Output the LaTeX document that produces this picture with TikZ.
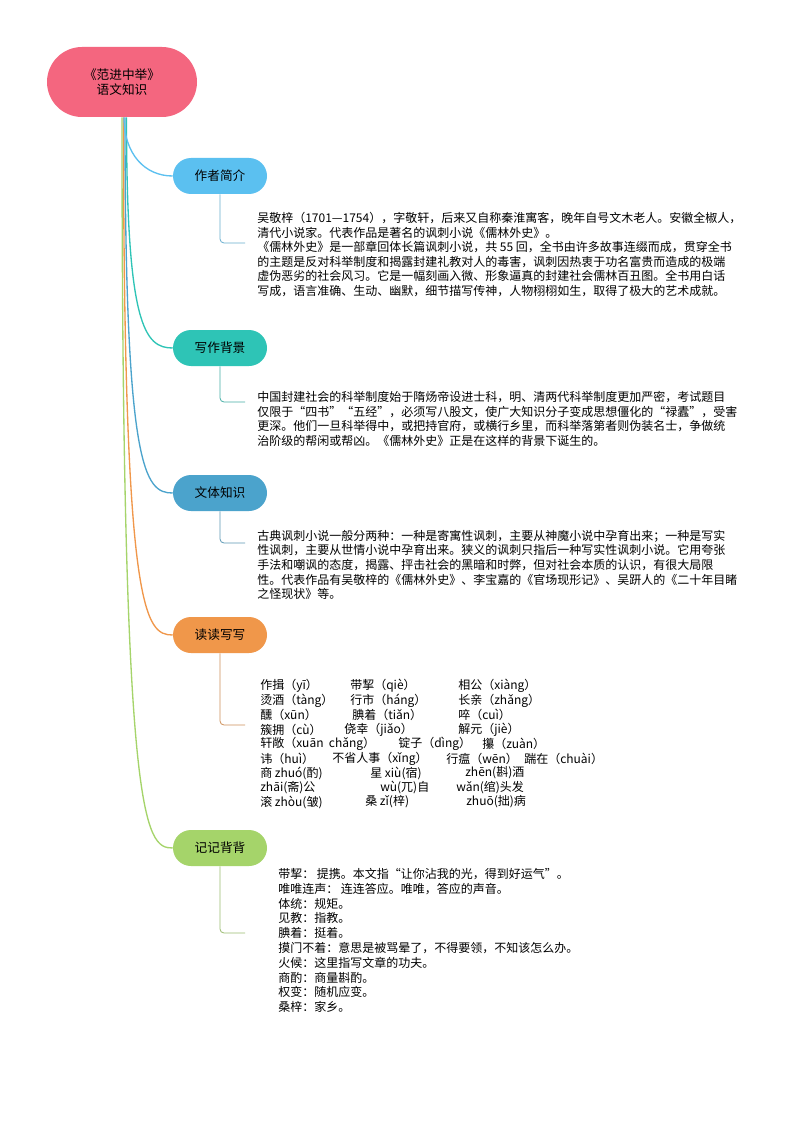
\documentclass[tikz,border=0pt]{standalone}
\usepackage{fontspec}
\setmainfont{Noto Sans CJK SC}
\usetikzlibrary{calc}
\begin{document}
\begin{tikzpicture}[x=0.75pt,y=-0.75pt,
  rootbox/.style={draw=none,fill=rootc,rounded corners=26.25pt,minimum width=112.5pt,minimum height=52.5pt,align=center,font=\fontsize{9.5}{11.5}\selectfont,inner sep=0pt},
  branchbox/.style={draw=none,fill=#1,rounded corners=13.5pt,minimum width=70.5pt,minimum height=27pt,font=\fontsize{9.5}{11}\selectfont,inner sep=0pt},
  body/.style={anchor=north west,align=left,inner sep=0pt,font=\fontsize{9}{10.9}\selectfont},
  item/.style={anchor=west,inner sep=0pt,font=\fontsize{9}{10.9}\selectfont},
  mainline/.style={draw=#1,line width=1pt},
  subline/.style={draw=#1,line width=0.6pt,rounded corners=3pt}]
\definecolor{rootc}{HTML}{F4667F}
\definecolor{c1}{HTML}{5BC0F0}
\definecolor{c2}{HTML}{2EC4B6}
\definecolor{c3}{HTML}{4BA3CC}
\definecolor{c4}{HTML}{F0974A}
\definecolor{c5}{HTML}{A5D46A}
\useasboundingbox (0,0) rectangle (794,1123);
\fill[white] (0,0) rectangle (794,1123);

\node[rootbox] (root) at (122,82) {《范进中举》\\语文知识};
\node[branchbox=c1] (b1) at (220,176) {作者简介};
\node[branchbox=c2] (b2) at (220,348) {写作背景};
\node[branchbox=c3] (b3) at (220,493) {文体知识};
\node[branchbox=c4] (b4) at (220,635) {读读写写};
\node[branchbox=c5] (b5) at (220,848) {记记背背};

\foreach \b/\c/\dx in {b5/c5/0,b4/c4/1.5,b3/c3/3,b2/c2/4.5,b1/c1/2}{
  \draw[mainline=\c] ($(root.south)+(\dx,0)$) .. controls ($(root.south |- \b.west)+(\dx,-22)$) and ($(\b.west)+(-28,0)$) .. (\b.west);
}

\coordinate (e1) at (245,243);
\coordinate (e2) at (245,402);
\coordinate (e3) at (245,543);
\coordinate (e4) at (245,725);
\coordinate (e5) at (245,933);
\draw[subline=c1!70!gray] (b1.south) |- (e1);
\draw[subline=c2!70!gray] (b2.south) |- (e2);
\draw[subline=c3!70!gray] (b3.south) |- (e3);
\draw[subline=c4!70!gray] (b4.south) |- (e4);
\draw[subline=c5!70!gray] (b5.south) |- (e5);

\node[body] (t1) at (257,212) {吴敬梓（1701—1754），字敬轩，后来又自称秦淮寓客，晚年自号文木老人。安徽全椒人，\\
清代小说家。代表作品是著名的讽刺小说《儒林外史》。\\
《儒林外史》是一部章回体长篇讽刺小说，共 55 回，全书由许多故事连缀而成，贯穿全书\\
的主题是反对科举制度和揭露封建礼教对人的毒害，讽刺因热衷于功名富贵而造成的极端\\
虚伪恶劣的社会风习。它是一幅刻画入微、形象逼真的封建社会儒林百丑图。全书用白话\\
写成，语言准确、生动、幽默，细节描写传神，人物栩栩如生，取得了极大的艺术成就。};

\node[body] (t2) at (257,391) {中国封建社会的科举制度始于隋炀帝设进士科，明、清两代科举制度更加严密，考试题目\\
仅限于“四书”“五经”，必须写八股文，使广大知识分子变成思想僵化的“禄蠹”，受害\\
更深。他们一旦科举得中，或把持官府，或横行乡里，而科举落第者则伪装名士，争做统\\
治阶级的帮闲或帮凶。《儒林外史》正是在这样的背景下诞生的。};

\node[body] (t3) at (257,530) {古典讽刺小说一般分两种：一种是寄寓性讽刺，主要从神魔小说中孕育出来；一种是写实\\
性讽刺，主要从世情小说中孕育出来。狭义的讽刺只指后一种写实性讽刺小说。它用夸张\\
手法和嘲讽的态度，揭露、抨击社会的黑暗和时弊，但对社会本质的认识，有很大局限\\
性。代表作品有吴敬梓的《儒林外史》、李宝嘉的《官场现形记》、吴趼人的《二十年目睹\\
之怪现状》等。};

% reading list
\node[item] (r11) at (260,686) {作揖（yī）};
\node[item] (r12) at (350,686) {带挈（qiè）};
\node[item] (r13) at (458,686) {相公（xiàng）};
\node[item] (r21) at (260,700.5) {烫酒（tàng）};
\node[item] (r22) at (350,700.5) {行市（háng）};
\node[item] (r23) at (458,700.5) {长亲（zhǎng）};
\node[item] (r31) at (260,715) {醺（xūn）};
\node[item] (r32) at (352,715) {腆着（tiǎn）};
\node[item] (r33) at (458,715) {啐（cuì）};
\node[item] (r41) at (260,729.5) {簇拥（cù）};
\node[item] (r42) at (344,729.5) {侥幸（jiǎo）};
\node[item] (r43) at (458,729.5) {解元（jiè）};
\node[item] (r51) at (260,744) {轩敞（xuān\ \ chǎng）};
\node[item] (r52) at (398,744) {锭子（dìng）};
\node[item] (r53) at (482,744) {攥（zuàn）};
\node[item] (r61) at (260,758.5) {讳（huì）};
\node[item] (r62) at (332,758.5) {不省人事（xǐng）};
\node[item] (r63) at (446,758.5) {行瘟（wēn）};
\node[item] (r64) at (524,758.5) {踹在（chuài）};
\node[item] (r71) at (260,773) {商 zhuó(酌)};
\node[item] (r72) at (370,773) {星 xiù(宿)};
\node[item] (r73) at (465,773) {zhēn(斟)酒};
\node[item] (r81) at (260,787.5) {zhāi(斋)公};
\node[item] (r82) at (380,787.5) {wù(兀)自};
\node[item] (r83) at (456,787.5) {wǎn(绾)头发};
\node[item] (r91) at (260,802) {滚 zhòu(皱)};
\node[item] (r92) at (365,802) {桑 zǐ(梓)};
\node[item] (r93) at (466,802) {zhuō(拙)病};

\node[body,font=\fontsize{9}{11.1}\selectfont] (t5) at (278,868) {带挈：\ 提携。本文指“让你沾我的光，得到好运气”。\\
唯唯连声：\ 连连答应。唯唯，答应的声音。\\
体统：规矩。\\
见教：指教。\\
腆着：挺着。\\
摸门不着：意思是被骂晕了，不得要领，不知该怎么办。\\
火候：这里指写文章的功夫。\\
商酌：商量斟酌。\\
权变：随机应变。\\
桑梓：家乡。};
\end{tikzpicture}
\end{document}
